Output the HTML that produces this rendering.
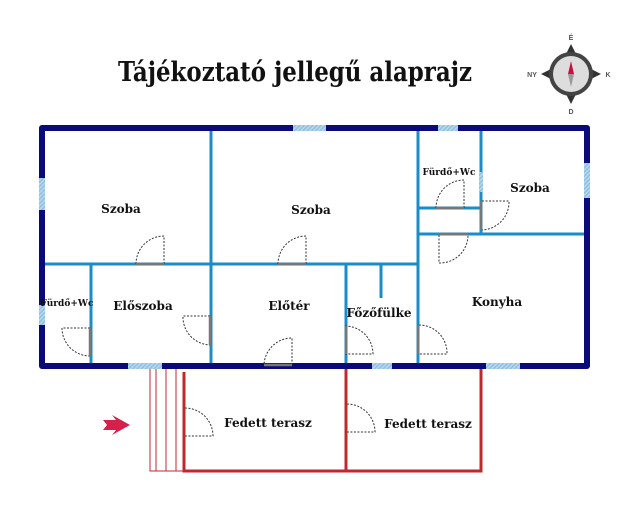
<!DOCTYPE html>
<html><head><meta charset="utf-8"><style>
body{margin:0;background:#fff;width:640px;height:503px;overflow:hidden}
svg text{font-family:"DejaVu Serif","Liberation Serif",serif;font-weight:bold;fill:#111}
</style></head><body>
<svg width="640" height="503" viewBox="0 0 640 503">
<defs>
<pattern id="h" width="3" height="3" patternUnits="userSpaceOnUse" patternTransform="rotate(45)">
<rect width="3" height="3" fill="#b8d8ee"/><rect width="1.5" height="3" fill="#8fc0e2"/></pattern>
</defs>
<text x="295" y="81" font-size="27" text-anchor="middle" textLength="354" lengthAdjust="spacingAndGlyphs">Tájékoztató jellegű alaprajz</text>
<!-- compass -->
<g transform="translate(571,74)">
<path d="M0,-30 L5,-20 L-5,-20Z M0,30 L5,20 L-5,20Z M-30,0 L-20,5 L-20,-5Z M30,0 L20,5 L20,-5Z" fill="#333"/>
<circle r="22" fill="#444"/><circle r="18" fill="#ddd"/>
<path d="M0,-13 L3,0 L-3,0Z" fill="#c8103e"/><path d="M0,13 L3,0 L-3,0Z" fill="#999"/>
<g font-size="7" text-anchor="middle">
<text x="0" y="-34" style="fill:#555;font-family:'Liberation Sans',sans-serif">É</text><text x="0" y="40" style="fill:#555;font-family:'Liberation Sans',sans-serif">D</text><text x="-39" y="3" style="fill:#555;font-family:'Liberation Sans',sans-serif">NY</text><text x="37" y="3" style="fill:#555;font-family:'Liberation Sans',sans-serif">K</text></g>
</g>
<!-- inner walls -->
<g stroke="#1a8cc8" stroke-width="3" fill="none">
<line x1="211" y1="128" x2="211" y2="366"/>
<line x1="42" y1="264" x2="418" y2="264"/>
<line x1="418" y1="128" x2="418" y2="366"/>
<line x1="91" y1="264" x2="91" y2="366"/>
<line x1="346" y1="264" x2="346" y2="366"/>
<line x1="381" y1="264" x2="381" y2="298"/>
<line x1="481" y1="128" x2="481" y2="234"/>
<line x1="418" y1="208" x2="481" y2="208"/>
<line x1="418" y1="234" x2="587" y2="234"/>
</g>
<rect x="479" y="172" width="4" height="20" fill="url(#h)"/>
<!-- outer walls -->
<rect x="42" y="128" width="545" height="238" fill="none" stroke="#0a0a78" stroke-width="6" stroke-linejoin="round"/>
<g fill="url(#h)">
<rect x="293" y="125" width="33" height="6"/><rect x="438" y="125" width="20" height="6"/>
<rect x="39" y="178" width="6" height="32"/><rect x="39" y="305" width="6" height="20"/>
<rect x="584" y="163" width="6" height="35"/>
<rect x="128" y="363" width="34" height="6"/><rect x="372" y="363" width="20" height="6"/><rect x="486" y="363" width="34" height="6"/>
</g>
<!-- doors -->
<g fill="none" stroke="#333" stroke-width="1" stroke-dasharray="2,1.5">
<path d="M164,264 V236 A28,28 0 0 0 136,264"/>
<path d="M306,264 V236 A28,28 0 0 0 278,264"/>
<path d="M90,328 H62 A28,28 0 0 0 90,356"/>
<path d="M210,316 H183 A28,28 0 0 0 210,345"/>
<path d="M292,365 V338 A28,28 0 0 0 264,365"/>
<path d="M345,326 A28,28 0 0 1 373,354 H345"/>
<path d="M419,325 A28,28 0 0 1 447,354 H419"/>
<path d="M464,208 V180 A28,28 0 0 0 436,208"/>
<path d="M482,201 H509 A28,28 0 0 1 482,230"/>
<path d="M439,235 V263 A28,28 0 0 0 468,235"/>
<path d="M185,408 A28,28 0 0 1 213,436 H185"/>
<path d="M347,404 A28,28 0 0 1 375,432 H347"/>
</g>
<g stroke="#777" stroke-width="2.5">
<line x1="136" y1="264" x2="164" y2="264"/><line x1="278" y1="264" x2="306" y2="264"/>
<line x1="264" y1="365" x2="292" y2="365"/><line x1="436" y1="208" x2="464" y2="208"/>
<line x1="439" y1="234" x2="468" y2="234"/><line x1="481" y1="201" x2="481" y2="230"/>
<line x1="90" y1="328" x2="90" y2="356"/><line x1="210" y1="316" x2="210" y2="345"/>
<line x1="346" y1="326" x2="346" y2="354"/><line x1="418" y1="325" x2="418" y2="354"/>
</g>
<!-- terrace -->
<g stroke="#c0282d" fill="none">
<path d="M184,372 V471 H481 V369 M346,369 V471" stroke-width="3"/>
<path d="M150,369 V471 H184 M156,369 V471 M166,369 V471 M176,369 V471" stroke-width="1"/>
</g>
<path d="M103,420 H116 L112,415 L130,425 L112,435 L116,430 H103 L107,425Z" fill="#d4204a"/>
<!-- labels -->
<g font-size="12" text-anchor="middle">
<text x="121" y="213">Szoba</text><text x="311" y="214">Szoba</text>
<text x="530" y="192">Szoba</text><text x="497" y="306">Konyha</text>
<text x="143" y="310">Előszoba</text><text x="289" y="310">Előtér</text>
<text x="379" y="317">Főzőfülke</text>
<text x="268" y="427">Fedett terasz</text><text x="428" y="428">Fedett terasz</text>
</g>
<g font-size="9" text-anchor="middle">
<text x="449" y="175">Fürdő+Wc</text><text x="67" y="306">Fürdő+Wc</text>
</g>
</svg>
</body></html>
